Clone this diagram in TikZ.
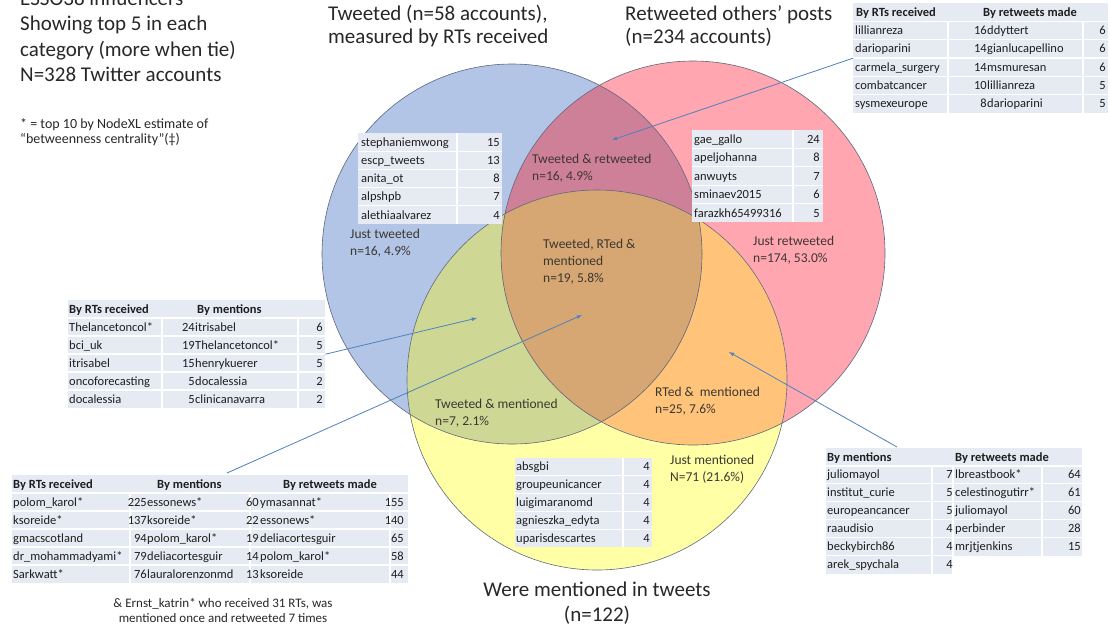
\documentclass[tikz,border=0pt]{standalone}
\usepackage{fontspec}
\setmainfont{Carlito}
\begin{document}
\begin{tikzpicture}[x=1pt, y=-1pt,
  cell/.style={inner sep=0pt, text=tabtext, font=\fontsize{12.5}{14}\selectfont},
  headcell/.style={cell, font=\fontsize{12.5}{14}\selectfont\bfseries},
  tablebg/.style={fill=cellbg, inner sep=0pt, anchor=north west},
  rowline/.style={white, line width=1.2pt},
  region/.style={align=left, anchor=base west, inner sep=0pt, text=labeltext, font=\fontsize{13.5}{17}\selectfont},
  title/.style={align=left, anchor=base west, inner sep=0pt, text=titletext},
  pointer/.style={-latex, draw=arrowblue, line width=0.8pt}]

% Define colors
\definecolor{blueC}{RGB}{178,197,230}
\definecolor{redC}{RGB}{255,166,176}
\definecolor{yellowC}{RGB}{255,255,166}
\definecolor{blueRed}{RGB}{207,128,153}
\definecolor{blueYellow}{RGB}{206,216,148}
\definecolor{redYellow}{RGB}{255,196,122}
\definecolor{allThree}{RGB}{214,166,115}
\definecolor{outline}{RGB}{95,105,125}
\definecolor{cellbg}{RGB}{230,234,242}
\definecolor{tabtext}{RGB}{30,30,30}
\definecolor{labeltext}{RGB}{60,55,50}
\definecolor{titletext}{RGB}{40,40,40}
\definecolor{arrowblue}{RGB}{79,129,189}

\useasboundingbox (0,0) rectangle (1110,630);
\fill[white] (0,0) rectangle (1110,630);

% Draw the circles
\fill[blueC] (512,254) circle [radius=190pt];
\fill[redC] (693,253) circle [radius=192pt];
\fill[yellowC] (597,380) circle [radius=190pt];

% Draw the overlaps
\begin{scope}
\clip (693,253) circle [radius=192pt];
\fill[redYellow] (597,380) circle [radius=190pt];
\end{scope}
\begin{scope}
\clip (512,254) circle [radius=190pt];
\fill[blueYellow] (597,380) circle [radius=190pt];
\fill[blueRed] (693,253) circle [radius=192pt];
\clip (693,253) circle [radius=192pt];
\fill[allThree] (597,380) circle [radius=190pt];
\end{scope}

% Draw the borders
\draw[outline, line width=0.6pt] (512,254) circle [radius=190pt];
\draw[outline, line width=0.6pt] (693,253) circle [radius=192pt];
\draw[outline, line width=0.6pt] (597,380) circle [radius=190pt];

% Headings (base = last line)
\node[title, font=\fontsize{21}{25.5}\selectfont] (heading) at (20,81.5)
  {ESSO38 influencers\\Showing top 5 in each\\category (more when tie)\\N=328 Twitter accounts};
\node[title, font=\fontsize{14}{15.7}\selectfont] (starnote) at (20,143.7)
  {* = top 10 by NodeXL estimate of\\“betweenness centrality”(‡)};
\node[title, font=\fontsize{21}{22.6}\selectfont] (tweetTitle) at (328,43.3)
  {Tweeted (n=58 accounts),\\measured by RTs received};
\node[title, font=\fontsize{21}{22.6}\selectfont] (retweetTitle) at (625,43.3)
  {Retweeted others’ posts\\(n=234 accounts)};
\node[title, align=center, anchor=base, font=\fontsize{21}{25}\selectfont] (mentionTitle) at (597,621)
  {Were mentioned in tweets\\(n=122)};

% Region labels
\node[region] (justTweeted) at (350,255) {Just tweeted\\n=16, 4.9\%};
\node[region] (tweetRetweet) at (532,180) {Tweeted \& retweeted\\n=16, 4.9\%};
\node[region] (justRetweeted) at (753,262) {Just retweeted\\n=174, 53.0\%};
\node[region] (allLabel) at (543,282) {Tweeted, RTed \&\\mentioned\\n=19, 5.8\%};
\node[region] (tweetMention) at (435,425) {Tweeted \& mentioned\\n=7, 2.1\%};
\node[region] (rtMention) at (655,413) {RTed \&\ \ mentioned\\n=25, 7.6\%};
\node[region] (justMentioned) at (670,481) {Just mentioned\\N=71 (21.6\%)};

% Table: just tweeted
\node[tablebg, minimum width=144pt, minimum height=91pt] (tabTweeted) at (358,133) {};
\foreach \i in {1,...,4} \draw[rowline] (358,{133+18.2*\i}) -- (502,{133+18.2*\i});
\draw[rowline] (457,133) -- (457,224);
\foreach \name/\num [count=\i] in {stephaniemwong/15, escp\_tweets/13, anita\_ot/8, alpshpb/7, alethiaalvarez/4} {
  \node[cell, anchor=base west] (tw\i) at (361,{133+18.2*\i-5}) {\name};
  \node[cell, anchor=base east] (twn\i) at (500,{133+18.2*\i-5}) {\num};
}

% Table: just retweeted
\node[tablebg, minimum width=131pt, minimum height=92pt] (tabRetweeted) at (692,130) {};
\foreach \i in {1,...,4} \draw[rowline] (692,{130+18.4*\i}) -- (823,{130+18.4*\i});
\draw[rowline] (793,130) -- (793,222);
\foreach \name/\num [count=\i] in {gae\_gallo/24, apeljohanna/8, anwuyts/7, sminaev2015/6, farazkh65499316/5} {
  \node[cell, anchor=base west] (rt\i) at (694,{130+18.4*\i-5}) {\name};
  \node[cell, anchor=base east] (rtn\i) at (820,{130+18.4*\i-5}) {\num};
}

% Table: tweeted & retweeted
\node[tablebg, minimum width=255pt, minimum height=110pt] (tabTopRight) at (853,3) {};
\foreach \i in {1,...,5} \draw[rowline] (853,{3+18.3*\i}) -- (1108,{3+18.3*\i});
\draw[rowline] (948,21.3) -- (948,113);
\draw[rowline] (1083,21.3) -- (1083,113);
\node[headcell, anchor=base west] (trh1) at (856,16.3) {By RTs received};
\node[headcell, anchor=base west] (trh2) at (983,16.3) {By retweets made};
\foreach \a/\b/\c/\d [count=\i] in {lillianreza/16/ddyttert/6, darioparini/14/gianlucapellino/6,
    carmela\_surgery/14/msmuresan/6, combatcancer/10/lillianreza/5, sysmexeurope/8/darioparini/5} {
  \node[cell, anchor=base west] (tra\i) at (855,{3+18.3*(\i+1)-5}) {\a};
  \node[cell, anchor=base east] (trb\i) at (987,{3+18.3*(\i+1)-5}) {\b};
  \node[cell, anchor=base west] (trc\i) at (987,{3+18.3*(\i+1)-5}) {\c};
  \node[cell, anchor=base east] (trd\i) at (1106,{3+18.3*(\i+1)-5}) {\d};
}

% Table: tweeted & mentioned
\node[tablebg, minimum width=257pt, minimum height=108pt] (tabTweetMention) at (68,300) {};
\foreach \i in {1,...,5} \draw[rowline] (68,{300+18*\i}) -- (325,{300+18*\i});
\draw[rowline] (162,318) -- (162,408);
\draw[rowline] (298,318) -- (298,408);
\node[headcell, anchor=base west] (tmh1) at (69,313) {By RTs received};
\node[headcell, anchor=base west] (tmh2) at (197,313) {By mentions};
\foreach \a/\b/\c/\d [count=\i] in {Thelancetoncol*/24/itrisabel/6, bci\_uk/19/Thelancetoncol*/5,
    itrisabel/15/henrykuerer/5, oncoforecasting/5/docalessia/2, docalessia/5/clinicanavarra/2} {
  \node[cell, anchor=base west] (tma\i) at (69,{300+18*(\i+1)-5}) {\a};
  \node[cell, anchor=base east] (tmb\i) at (195,{300+18*(\i+1)-5}) {\b};
  \node[cell, anchor=base west] (tmc\i) at (195,{300+18*(\i+1)-5}) {\c};
  \node[cell, anchor=base east] (tmd\i) at (323,{300+18*(\i+1)-5}) {\d};
}

% Table: tweeted, RTed & mentioned
\node[tablebg, minimum width=396pt, minimum height=108pt] (tabCentre) at (12,475) {};
\foreach \i in {1,...,5} \draw[rowline] (12,{475+18*\i}) -- (408,{475+18*\i});
\draw[rowline] (130,493) -- (130,583);
\draw[rowline] (250,493) -- (250,583);
\draw[rowline] (390,493) -- (390,583);
\node[headcell, anchor=base west] (ch1) at (13,488) {By RTs received};
\node[headcell, anchor=base west] (ch2) at (157,488) {By mentions};
\node[headcell, anchor=base west] (ch3) at (283,488) {By retweets made};
\foreach \a/\b/\c/\d/\e/\f [count=\i] in {polom\_karol*/225/essonews*/60/ymasannat*/155,
    ksoreide*/137/ksoreide*/22/essonews*/140, gmacscotland/94/polom\_karol*/19/deliacortesguir/65,
    dr\_mohammadyami*/79/deliacortesguir/14/polom\_karol*/58, Sarkwatt*/76/lauralorenzonmd/13/ksoreide/44} {
  \node[cell, anchor=base west] (ca\i) at (13,{475+18*(\i+1)-5}) {\a};
  \node[cell, anchor=base east] (cb\i) at (147,{475+18*(\i+1)-5}) {\b};
  \node[cell, anchor=base west] (cc\i) at (147,{475+18*(\i+1)-5}) {\c};
  \node[cell, anchor=base east] (cd\i) at (259,{475+18*(\i+1)-5}) {\d};
  \node[cell, anchor=base west] (ce\i) at (260,{475+18*(\i+1)-5}) {\e};
  \node[cell, anchor=base east] (cf\i) at (404,{475+18*(\i+1)-5}) {\f};
}
\node[title, align=center, anchor=base, font=\fontsize{13}{15}\selectfont] (ernstNote) at (223,622)
  {\& Ernst\_katrin* who received 31 RTs, was\\mentioned once and retweeted 7 times};

% Table: RTed & mentioned
\fill[cellbg] (826,448) rectangle (953,574);
\fill[cellbg] (953,448) rectangle (1082,556);
\node[inner sep=0pt, anchor=north west, minimum width=256pt, minimum height=108pt] (tabRTmention) at (826,448) {};
\foreach \i in {1,...,5} \draw[rowline] (826,{448+17.9*\i}) -- (1082,{448+17.9*\i});
\draw[rowline] (826,{448+17.9*6}) -- (953,{448+17.9*6});
\draw[rowline] (932,466) -- (932,574);
\draw[rowline] (953,466) -- (953,574);
\draw[rowline] (1042,466) -- (1042,556);
\node[headcell, anchor=base west] (rmh1) at (827,461) {By mentions};
\node[headcell, anchor=base west] (rmh2) at (955,461) {By retweets made};
\foreach \a/\b/\c/\d [count=\i] in {juliomayol/7/lbreastbook*/64, institut\_curie/5/celestinogutirr*/61,
    europeancancer/5/juliomayol/60, raaudisio/4/perbinder/28, beckybirch86/4/mrjtjenkins/15} {
  \node[cell, anchor=base west] (rma\i) at (827,{448+17.9*(\i+1)-5}) {\a};
  \node[cell, anchor=base east] (rmb\i) at (953,{448+17.9*(\i+1)-5}) {\b};
  \node[cell, anchor=base west] (rmc\i) at (955,{448+17.9*(\i+1)-5}) {\c};
  \node[cell, anchor=base east] (rmd\i) at (1081,{448+17.9*(\i+1)-5}) {\d};
}
\node[cell, anchor=base west] (rma6) at (827,{448+17.9*7-5}) {arek\_spychala};
\node[cell, anchor=base east] (rmb6) at (953,{448+17.9*7-5}) {4};

% Table: just mentioned
\node[tablebg, minimum width=137pt, minimum height=89pt] (tabMentioned) at (515,458) {};
\foreach \i in {1,...,4} \draw[rowline] (515,{458+17.8*\i}) -- (652,{458+17.8*\i});
\draw[rowline] (623,458) -- (623,547);
\foreach \name/\num [count=\i] in {absgbi/4, groupeunicancer/4, luigimaranomd/4, agnieszka\_edyta/4, uparisdescartes/4} {
  \node[cell, anchor=base west] (jm\i) at (516,{458+17.8*\i-5}) {\name};
  \node[cell, anchor=base east] (jmn\i) at (650,{458+17.8*\i-5}) {\num};
}

% Pointers to the regions
\coordinate (ptTweetRetweet) at (612,140);
\coordinate (ptTweetMention) at (477,318);
\coordinate (ptAll) at (582,315);
\coordinate (ptRTmention) at (729,352);
\coordinate (centreTail) at (227,473);
\coordinate (rtMentionTail) at (897,447);
\draw[pointer] (tabTopRight.west) -- (ptTweetRetweet);
\draw[pointer] (tabTweetMention.east) -- (ptTweetMention);
\draw[pointer] (centreTail) -- (ptAll);
\draw[pointer] (rtMentionTail) -- (ptRTmention);

\end{tikzpicture}
\end{document}
